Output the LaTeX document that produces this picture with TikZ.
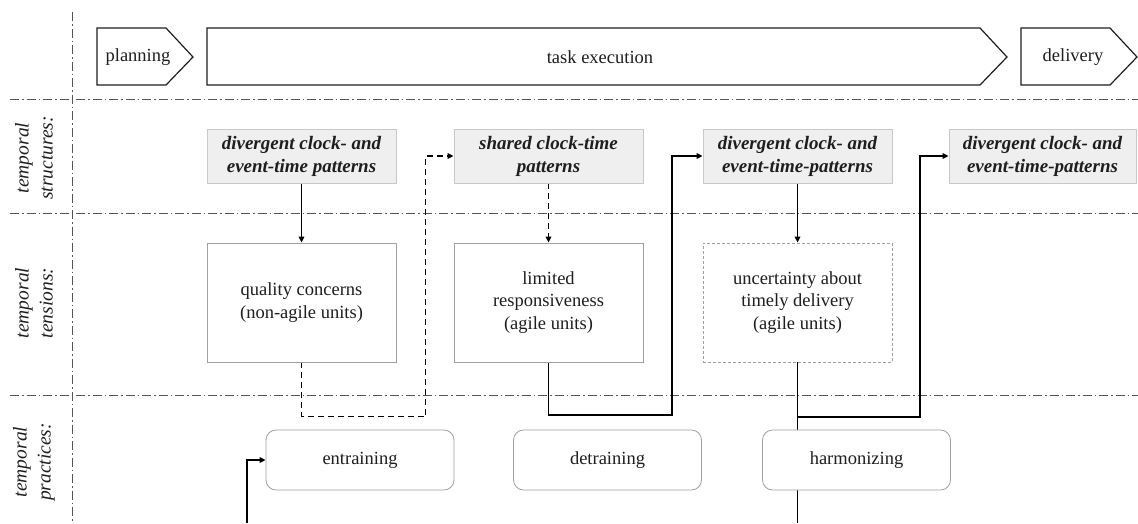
\documentclass[tikz,border=0pt]{standalone}
\usepackage{fontspec}
\setmainfont{Liberation Serif}
\usetikzlibrary{arrows.meta,backgrounds}
\definecolor{ink}{HTML}{1E1E1E}
\definecolor{sepgray}{HTML}{555555}
\definecolor{boxline}{HTML}{A0A0A0}
\definecolor{structfill}{HTML}{EFEFEF}
\definecolor{structline}{HTML}{C8C8C8}
\tikzset{
  sepline/.style={draw=sepgray, line width=0.9pt, dash pattern=on 9pt off 3pt on 1.5pt off 3pt},
  phase/.style={draw=ink, line width=1.2pt},
  phasetext/.style={text=ink, font=\fontsize{18.5}{22.5}\selectfont, inner sep=0pt},
  rowlabel/.style={rotate=90, align=center, text=ink, font=\fontsize{19.5}{24}\selectfont\itshape, inner sep=0pt},
  structbox/.style={draw=structline, fill=structfill, line width=0.8pt, minimum width=189pt, minimum height=54pt,
    inner sep=0pt, align=center, text=ink, font=\fontsize{19}{23}\selectfont\bfseries\itshape},
  tensionbox/.style={draw=boxline, fill=white, line width=0.8pt, minimum width=189pt, minimum height=119pt,
    inner sep=0pt, align=center, text=ink, font=\fontsize{18.5}{22.5}\selectfont},
  practicebox/.style={draw=boxline, fill=white, line width=0.8pt, rounded corners=10pt, minimum width=188pt,
    minimum height=60pt, inner sep=0pt, align=center, text=ink, font=\fontsize{18.5}{22.5}\selectfont},
  flowline/.style={draw=black, line width=1.9pt},
  flow/.style={flowline, -{Triangle[length=6pt,width=5.5pt]}},
  flowdash/.style={draw=black, line width=1.6pt, dash pattern=on 6pt off 4pt, -{Triangle[length=6pt,width=5.5pt]}}
}
\begin{document}
\begin{tikzpicture}[x=1pt, y=-1pt]
\useasboundingbox (0,0) rectangle (1138,523);

% phases along the top
\draw[phase] (97,28) -- (166,28) -- (193,57) -- (166,85) -- (97,85) -- cycle;
\node[phasetext] (plan) at (138,57) {planning};
\draw[phase] (207,28) -- (980,28) -- (1007,57) -- (980,85) -- (207,85) -- cycle;
\node[phasetext] (exec) at (600,57) {task execution};
\draw[phase] (1021,28) -- (1110,28) -- (1137,57) -- (1110,85) -- (1021,85) -- cycle;
\node[phasetext] (deliv) at (1073,57) {delivery};

% row labels
\node[rowlabel] (labstruct) at (34,158) {temporal\\structures:};
\node[rowlabel] (labtension) at (34,303) {temporal\\tensions:};
\node[rowlabel] (labpractice) at (34,462) {temporal\\practices:};

% temporal structures
\node[structbox] (s1) at (301.5,156) {divergent clock- and\\event-time patterns};
\node[structbox] (s2) at (548.5,156) {shared clock-time\\patterns};
\node[structbox] (s3) at (797.5,156) {divergent clock- and\\event-time-patterns};
\node[structbox, minimum width=187pt] (s4) at (1042.5,156) {divergent clock- and\\event-time-patterns};

% temporal tensions
\node[tensionbox] (t1) at (301.5,302.5) {quality concerns\\(non-agile units)};
\node[tensionbox] (t2) at (548.5,302.5) {limited\\responsiveness\\(agile units)};
\node[tensionbox, dash pattern=on 3pt off 2pt] (t3) at (797.5,302.5) {uncertainty about\\timely delivery\\(agile units)};

% temporal practices
\node[practicebox] (p1) at (360,460) {entraining};
\node[practicebox] (p2) at (607.5,460) {detraining};
\node[practicebox] (p3) at (856.5,460) {harmonizing};

\coordinate (foot) at (797.5,523);
\coordinate (entry) at (247,523);

\begin{pgfonlayer}{background}
  % grid of dash-dotted separators
  \draw[sepline] (72,12) -- (72,523);
  \draw[sepline] (10,99) -- (1138,99);
  \draw[sepline] (10,213) -- (1138,213);
  \draw[sepline] (10,395) -- (1138,395);

  % connectors
  \draw[flow] (s1.south) -- (t1.north);
  \draw[flowdash] (t1.south) -- ++(0,54) -| ([xshift=-28pt]s2.west) -- (s2.west);
  \draw[flowdash] (s2.south) -- (t2.north);
  \draw[flow] (t2.south) -- ++(0,53) -| ([xshift=-31pt]s3.west) -- (s3.west);
  \draw[flow] (s3.south) -- (t3.north);
  \draw[flowline] (t3.south) -- (t3.south |- foot);
  \draw[flow] (t3.south) -- ++(0,55) -| ([xshift=-29pt]s4.west) -- (s4.west);
  \draw[flow] (entry) |- (p1.west);
\end{pgfonlayer}
\end{tikzpicture}
\end{document}
